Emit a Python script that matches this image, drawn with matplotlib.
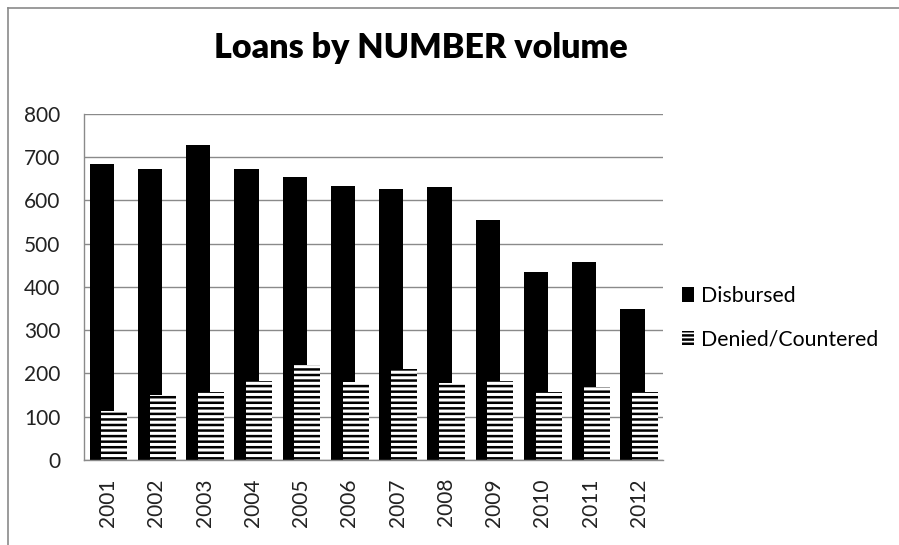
import numpy as np
import matplotlib.pyplot as plt
from matplotlib.lines import Line2D
from matplotlib.patches import Patch

plt.rcParams['font.family'] = ['Lato', 'DejaVu Sans']
plt.rcParams['hatch.linewidth'] = 1.8

# data
years = ['2001', '2002', '2003', '2004', '2005', '2006',
         '2007', '2008', '2009', '2010', '2011', '2012']
disbursed = [684, 672, 728, 672, 655, 634, 627, 630, 554, 435, 457, 348]
denied = [113, 150, 156, 183, 220, 181, 211, 177, 183, 156, 168, 156]

fig = plt.figure(figsize=(8.99, 5.45), dpi=100)
ax = fig.add_axes([0.0934, 0.156, 0.644, 0.635])

x = np.arange(len(years))
ax.bar(x - 0.13, disbursed, width=0.5, color='black', zorder=2)
ax.bar(x + 0.13, denied, width=0.54, color='white', edgecolor='black', linewidth=0,
       hatch='---', zorder=3)

ax.set_xlim(-0.5, len(years) - 0.5)
ax.set_ylim(0, 800)
ax.set_yticks(range(0, 801, 100))
ax.set_xticks(x)
ax.set_xticklabels(years, rotation=90)
ax.tick_params(length=0, labelsize=15, colors='#222222')
ax.tick_params(axis='y', pad=17)
ax.tick_params(axis='x', pad=13)
ax.grid(axis='y', color='#8a8a8a', linewidth=1, zorder=0)
ax.set_axisbelow(True)
for s in ['top', 'right']:
    ax.spines[s].set_visible(False)
for s in ['left', 'bottom']:
    ax.spines[s].set_color('#8a8a8a')
    ax.spines[s].set_linewidth(1)

fig.text(0.468, 0.912, 'Loans by NUMBER volume', ha='center', va='center',
         fontsize=24.5, fontweight='heavy', color='black')

# legend handles (denser hatch so the small swatch shows three stripes)
handles = [Patch(facecolor='black', label='Disbursed'),
           Patch(facecolor='white', edgecolor='black', linewidth=0, hatch='----',
                 label='Denied/Countered')]
ax.legend(handles=handles, loc='center left', bbox_to_anchor=(0.737, 0.417),
          bbox_transform=fig.transFigure, frameon=False, fontsize=15.3,
          handlelength=0.6, handleheight=0.7, handletextpad=0.3, labelspacing=1.1)

# outer chart border (top and left edges visible)
fig.add_artist(Line2D([0.0085, 1], [0.985, 0.985], color='#8a8a8a', linewidth=1.2))
fig.add_artist(Line2D([0.0085, 0.0085], [0, 0.985], color='#8a8a8a', linewidth=1.2))

fig.savefig('out.png', dpi=100)
